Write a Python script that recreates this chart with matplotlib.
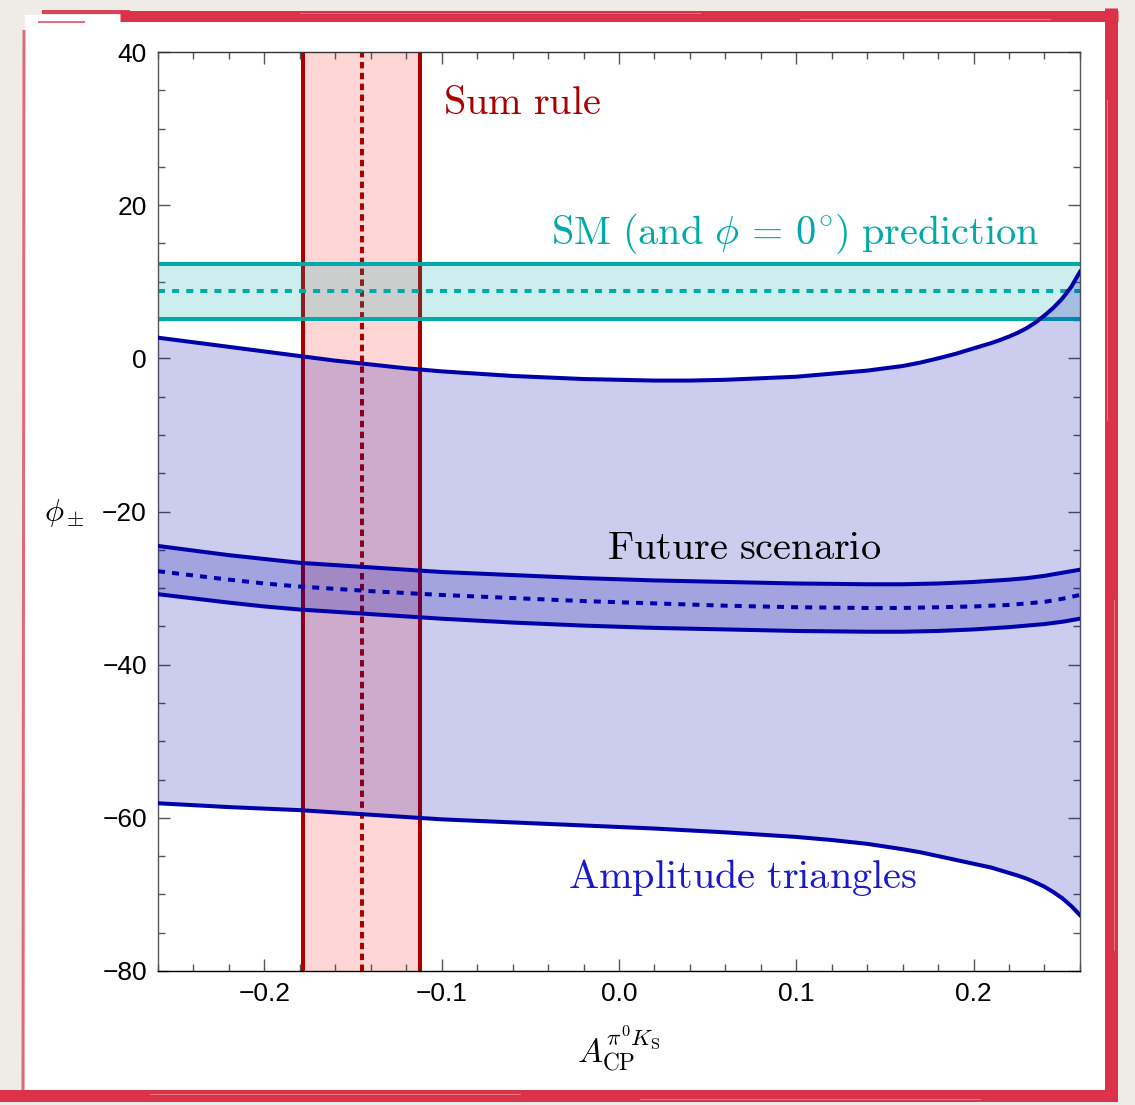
import matplotlib
matplotlib.use("Agg")
import matplotlib.pyplot as plt
from matplotlib.patches import Rectangle
import numpy as np

plt.rcParams['mathtext.fontset'] = 'cm'
plt.rcParams['font.family'] = ['Liberation Sans', 'DejaVu Sans']

# sum rule band in A_CP
sum_rule_center = -0.145
sum_rule_low = -0.178
sum_rule_high = -0.112

# SM prediction band for phi
sm_center = 8.75
sm_low = 5.2
sm_high = 12.3

# amplitude triangle boundaries
x_amp = [-0.26, -0.24, -0.22, -0.20, -0.18, -0.16, -0.14, -0.12, -0.10, -0.08,
         -0.06, -0.04, -0.02, 0.00, 0.02, 0.04, 0.06, 0.08, 0.10, 0.12,
         0.14, 0.16, 0.17, 0.18, 0.19, 0.20, 0.21, 0.215, 0.22, 0.225,
         0.23, 0.235, 0.24, 0.245, 0.25, 0.255, 0.26]
amp_upper = [2.7, 2.1, 1.5, 0.9, 0.3, -0.3, -0.8, -1.3, -1.7, -2.0,
             -2.3, -2.5, -2.7, -2.8, -2.9, -2.9, -2.8, -2.6, -2.4, -2.0,
             -1.6, -1.0, -0.55, 0.0, 0.6, 1.3, 2.0, 2.4, 2.85, 3.35,
             3.95, 4.7, 5.6, 6.6, 7.8, 9.3, 11.3]
amp_lower = [-58.1, -58.35, -58.6, -58.8, -59.0, -59.3, -59.6, -59.9, -60.2, -60.4,
             -60.6, -60.8, -61.0, -61.2, -61.4, -61.65, -61.9, -62.2, -62.5, -62.9,
             -63.4, -64.1, -64.5, -65.0, -65.5, -66.0, -66.5, -66.85, -67.2, -67.55,
             -67.95, -68.45, -69.0, -69.7, -70.5, -71.5, -72.7]

# future scenario band
x_fut = [-0.26, -0.24, -0.22, -0.20, -0.18, -0.16, -0.14, -0.12, -0.10, -0.08,
         -0.06, -0.04, -0.02, 0.00, 0.02, 0.04, 0.06, 0.08, 0.10, 0.12,
         0.14, 0.16, 0.18, 0.20, 0.22, 0.23, 0.24, 0.25, 0.26]
fut_upper = [-24.5, -25.1, -25.7, -26.2, -26.7, -27.0, -27.3, -27.6, -27.9, -28.1,
             -28.3, -28.5, -28.7, -28.85, -29.0, -29.1, -29.2, -29.3, -29.4, -29.45,
             -29.5, -29.5, -29.4, -29.2, -28.9, -28.7, -28.4, -28.0, -27.6]
fut_center = [-27.8, -28.35, -28.9, -29.4, -29.8, -30.1, -30.4, -30.65, -30.9, -31.1,
              -31.3, -31.5, -31.7, -31.85, -32.0, -32.15, -32.3, -32.4, -32.5, -32.55,
              -32.6, -32.6, -32.5, -32.4, -32.2, -32.0, -31.8, -31.4, -30.9]
fut_lower = [-30.8, -31.35, -31.9, -32.4, -32.8, -33.1, -33.4, -33.7, -34.0, -34.25,
             -34.5, -34.7, -34.9, -35.05, -35.2, -35.3, -35.4, -35.5, -35.6, -35.65,
             -35.7, -35.7, -35.6, -35.4, -35.1, -34.9, -34.7, -34.4, -34.0]

RED = '#aa0000'
TEAL = '#00aaaa'
BLUE = '#0000aa'
FRAME_RED = '#db3149'

fig = plt.figure(figsize=(11.35, 11.05), dpi=100, facecolor='#efece7')

# decorative card with brushed red border, in pixel coordinates
frame = fig.add_axes([0, 0, 1, 1], zorder=-10)
frame.set_xlim(0, 1135)
frame.set_ylim(1105, 0)
frame.axis('off')
frame.add_patch(Rectangle((25, 15), 1083, 1075, color='white', zorder=0))
px = 0.72
strokes = [
    # (x0, y0, x1, y1, width in px, alpha)
    (120, 16, 1118, 16, 11, 1.0),
    (42, 12, 130, 12, 4, 0.9),
    (38, 22, 85, 22, 2, 0.7),
    (24, 30, 23, 1090, 3, 0.7),
    (1111, 8, 1111, 1100, 13, 1.0),
    (0, 1096, 1118, 1096, 12, 1.0),
]
for x0, y0, x1, y1, w, a in strokes:
    frame.plot([x0, x1], [y0, y1], color=FRAME_RED, lw=w * px, alpha=a,
               solid_capstyle='butt', zorder=1)
# lighter streaks give the border its brushed look
streaks = [
    (300, 13, 700, 13), (800, 19, 1050, 19), (1107, 100, 1107, 420),
    (1114, 600, 1114, 950), (150, 1094, 520, 1094), (640, 1099, 980, 1099),
]
for x0, y0, x1, y1 in streaks:
    frame.plot([x0, x1], [y0, y1], color='white', lw=1 * px, alpha=0.35, zorder=2)

ax = fig.add_axes([0.1392, 0.1213, 0.8123, 0.8316])
ax.set_facecolor('white')

lw = 2.9
dash = (0, (1.75, 1.75))

# sum rule
ax.axvspan(sum_rule_low, sum_rule_high, color='#ff0000', alpha=0.16, lw=0, zorder=1)
ax.axvline(sum_rule_low, color=RED, lw=lw, zorder=1.1)
ax.axvline(sum_rule_high, color=RED, lw=lw, zorder=1.1)
ax.axvline(sum_rule_center, color=RED, lw=lw, ls=(0, (1.6, 1.1)), zorder=1.1)

# SM prediction
ax.axhspan(sm_low, sm_high, color=TEAL, alpha=0.2, lw=0, zorder=2)
ax.axhline(sm_low, color=TEAL, lw=lw, zorder=2.1)
ax.axhline(sm_high, color=TEAL, lw=lw, zorder=2.1)
ax.axhline(sm_center, color=TEAL, lw=lw, ls=dash, zorder=2.1)

# amplitude triangles
ax.fill_between(x_amp, amp_lower, amp_upper, color=BLUE, alpha=0.2, lw=0, zorder=3)
ax.plot(x_amp, amp_upper, color=BLUE, lw=lw, zorder=3.1)
ax.plot(x_amp, amp_lower, color=BLUE, lw=lw, zorder=3.1)

# future scenario
ax.fill_between(x_fut, fut_lower, fut_upper, color=BLUE, alpha=0.2, lw=0, zorder=4)
ax.plot(x_fut, fut_upper, color=BLUE, lw=lw, zorder=4.1)
ax.plot(x_fut, fut_lower, color=BLUE, lw=lw, zorder=4.1)
ax.plot(x_fut, fut_center, color=BLUE, lw=lw, ls=dash, zorder=4.1)

ax.set_xlim(-0.26, 0.26)
ax.set_ylim(-80, 40)
ax.set_xticks(np.arange(-0.2, 0.21, 0.1))
ax.set_xticks(np.arange(-0.26, 0.261, 0.02), minor=True)
ax.set_yticks(np.arange(-80, 41, 20))
ax.set_yticks(np.arange(-80, 41, 5), minor=True)
ax.tick_params(which='both', direction='in', top=True, right=True,
               color='#555555', labelsize=19, width=1)
ax.tick_params(which='major', length=8.5, pad=8)
ax.tick_params(which='minor', length=5)
for s in ax.spines.values():
    s.set_color('#555555')
    s.set_linewidth(1)
ax.spines['bottom'].set_color('black')
ax.spines['top'].set_color('#333333')

tsize = 29
ax.text(-0.099, 33.4, r'$\mathrm{Sum\ rule}$', color=RED, fontsize=tsize,
        va='center', ha='left')
ax.text(0.237, 16.3, r'$\mathrm{SM\ (and\ }\phi\,=\,0^{\!\circ}\!\mathrm{)\ prediction}$',
        color=TEAL, fontsize=tsize, va='center', ha='right')
ax.text(-0.007, -24.8, r'$\mathrm{Future\ scenario}$', color='black',
        fontsize=tsize, va='center', ha='left')
ax.text(-0.029, -67.8, r'$\mathrm{Amplitude\ triangles}$', color='#1a1acc',
        fontsize=tsize, va='center', ha='left')

ax.set_ylabel(r'$\phi_\pm$', rotation=0, fontsize=23, ha='center', va='center')
ax.yaxis.set_label_coords(-0.101, 0.498)
ax.set_xlabel(r'$A_{\mathrm{CP}}^{\pi^0 K_\mathrm{S}}$', fontsize=24, va='center')
ax.xaxis.set_label_coords(0.5, -0.084)

fig.savefig('out.png', dpi=100, facecolor=fig.get_facecolor())
